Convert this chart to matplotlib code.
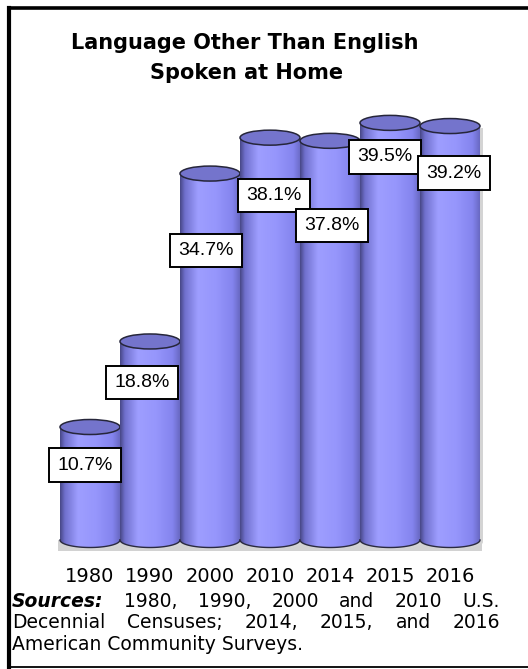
import numpy as np
import matplotlib
matplotlib.use("Agg")
import matplotlib.pyplot as plt
from matplotlib.patches import Polygon, Ellipse, Rectangle
from matplotlib.lines import Line2D

plt.rcParams['font.family'] = ['Liberation Sans', 'DejaVu Sans']

years = ['1980', '1990', '2000', '2010', '2014', '2015', '2016']
pct = [10.7, 18.8, 34.7, 38.1, 37.8, 39.5, 39.2]
labels = ['10.7%', '18.8%', '34.7%', '38.1%', '37.8%', '39.5%', '39.2%']

# label box offsets from the top of each cylinder, in pixels (dx, dy down)
label_off = [(-5, 38), (-8, 41), (-4, 77), (4, 58), (2, 85), (-5, 34), (4, 47)]

W, H = 528, 669
fig = plt.figure(figsize=(W / 100, H / 100), dpi=100)

# plot area: value 0 sits at y=540px, 10.56 px per percent, bars 60px apart
k = 10.56
ymin, ymax = -3, 45
bot_px = 540 - ymin * k
top_px = 540 - ymax * k
ax = fig.add_axes([30 / W, 1 - bot_px / H, 480 / W, (bot_px - top_px) / H])
ax.set_xlim(-1, 7)
ax.set_ylim(ymin, ymax)
ax.axis('off')

eh = 15 / k  # ellipse height in data units

# horizontal shading of the cylinder body
stops_t = [0.0, 0.08, 0.3, 0.6, 0.88, 1.0]
stops_c = np.array([[72, 72, 135], [112, 112, 205], [158, 158, 255],
                    [150, 150, 252], [132, 132, 238], [105, 105, 195]]) / 255
tt = np.linspace(0, 1, 120)
grad = np.stack([np.interp(tt, stops_t, stops_c[:, j]) for j in range(3)], axis=-1)[None, :, :]

# grey floor shadow under the row of cylinders
ax.add_patch(Rectangle((-0.53, -11 / k), len(pct) + 0.07, 11 / k, color='#d2d2d2', lw=0, zorder=1))

th = np.linspace(np.pi, 2 * np.pi, 60)
for i, v in enumerate(pct):
    z = 2 + i * 3
    xs = np.concatenate([[i - 0.5], i + 0.5 * np.cos(th), [i + 0.5]])
    ys = np.concatenate([[v], (eh / 2) * np.sin(th), [v]])

    # thin drop shadow on the right side
    shd = Polygon(np.column_stack([xs + 3 / 60, ys - 2 / k]), closed=True,
                  facecolor='#d4d4d4', edgecolor='none', zorder=z - 0.5)
    ax.add_patch(shd)

    body = Polygon(np.column_stack([xs, ys]), closed=True, facecolor='none',
                   edgecolor='none', transform=ax.transData)
    ax.add_patch(body)
    im = ax.imshow(grad, extent=[i - 0.5, i + 0.5, -eh, v], aspect='auto',
                   interpolation='bilinear', zorder=z)
    im.set_clip_path(body)
    # bottom rim
    ax.plot(i + 0.5 * np.cos(th), (eh / 2) * np.sin(th), color='#2a2a40', lw=1.0, zorder=z + 0.5)
    # top cap
    cap = Ellipse((i, v), 1.0, eh, facecolor='#7474cc', edgecolor='#26263a', lw=1.1, zorder=z + 1)
    ax.add_patch(cap)

for i, v in enumerate(pct):
    dx, dy = label_off[i]
    ax.annotate(labels[i], xy=(i, v), xytext=(dx, -dy), textcoords='offset pixels',
                ha='center', va='center', fontsize=14, zorder=50,
                bbox=dict(boxstyle='square,pad=0.42', fc='white', ec='black', lw=1.4))
    ax.annotate(years[i], xy=(i, 0), xytext=(0, -37), textcoords='offset pixels',
                ha='center', va='center', fontsize=14, family='DejaVu Sans',
                zorder=50, annotation_clip=False)

# title
fig.text(245 / W, 1 - 43 / H, 'Language Other Than English', ha='center', va='center',
         fontsize=15, fontweight='bold', family='DejaVu Sans')
fig.text(247 / W, 1 - 73 / H, 'Spoken at Home', ha='center', va='center',
         fontsize=15, fontweight='bold', family='DejaVu Sans')

# outer frame: thick left/top, thin bottom, no right edge
def px(x, y):
    return x / W, 1 - y / H

for (x0, y0), (x1, y1), lw in [((9, 667), (9, 8), 3), ((9, 8), (540, 8), 2.6),
                               ((9, 667), (540, 667), 1.3)]:
    a, b = px(x0, y0)
    c, d = px(x1, y1)
    fig.lines.append(Line2D([a, c], [b, d], transform=fig.transFigure, color='black',
                            lw=lw, solid_capstyle='projecting', zorder=100))

# justified source note
src_lines = [
    [('Sources:', 'bold', 'italic'), ('1980,', 'normal', 'normal'), ('1990,', 'normal', 'normal'),
     ('2000', 'normal', 'normal'), ('and', 'normal', 'normal'), ('2010', 'normal', 'normal'),
     ('U.S.', 'normal', 'normal')],
    [('Decennial', 'normal', 'normal'), ('Censuses;', 'normal', 'normal'), ('2014,', 'normal', 'normal'),
     ('2015,', 'normal', 'normal'), ('and', 'normal', 'normal'), ('2016', 'normal', 'normal')],
    [('American Community Surveys.', 'normal', 'normal')],
]
baselines = [607, 628, 650]
left_px, right_px = 12, 500
renderer = fig.canvas.get_renderer()
for ln, (words, base) in enumerate(zip(src_lines, baselines)):
    objs = []
    for w, wt, st in words:
        t = fig.text(0, 1 - base / H, w, ha='left', va='baseline', fontsize=13.5,
                     fontweight=wt, fontstyle=st, family='DejaVu Sans')
        objs.append(t)
    widths = [t.get_window_extent(renderer).width for t in objs]
    if len(objs) > 1 and ln < len(src_lines) - 1:
        gap = (right_px - left_px - sum(widths)) / (len(objs) - 1)
    else:
        gap = 5
    x = left_px
    for t, wd in zip(objs, widths):
        t.set_x(x / W)
        x += wd + gap

fig.savefig('out.png', dpi=100)
